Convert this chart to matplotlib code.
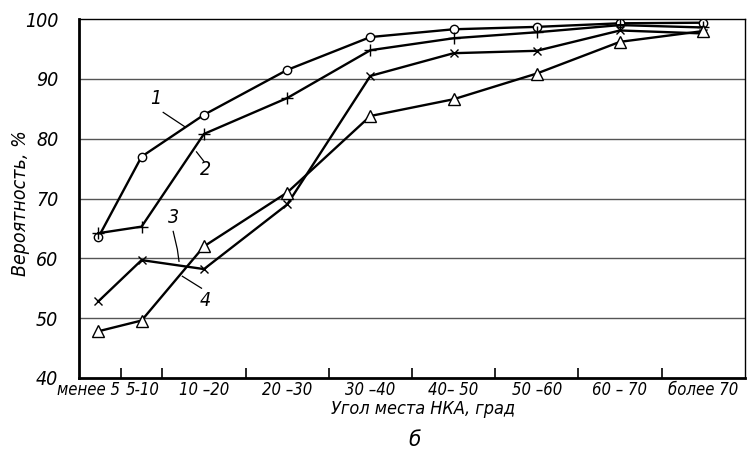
import matplotlib
matplotlib.use('Agg')
import matplotlib.pyplot as plt

# угол места, град (середины интервалов)
angle = [2.3, 7.5, 15, 25, 35, 45, 55, 65, 75]
curve1 = [63.5, 77.0, 84.0, 91.5, 97.0, 98.3, 98.7, 99.3, 99.4]
curve2 = [64.2, 65.3, 80.8, 86.8, 94.8, 96.8, 97.8, 99.0, 98.6]
curve3 = [52.8, 59.7, 58.2, 69.0, 90.5, 94.3, 94.7, 98.1, 97.6]
curve4 = [47.8, 49.6, 62.0, 71.0, 83.8, 86.6, 90.9, 96.2, 98.0]

bounds = [5, 10, 20, 30, 40, 50, 60, 70]
label_pos = [1.1, 7.6, 15, 25, 35, 45, 55, 65, 75]
labels = ['менее 5', '5-10', '10 –20', '20 –30', '30 –40', '40– 50',
          '50 –60', '60 – 70', 'более 70']
yticks = [40, 50, 60, 70, 80, 90, 100]

font = dict(family=['DejaVu Sans'], style='italic', stretch='condensed')

fig = plt.figure(figsize=(7.47, 4.66), dpi=100)
ax = fig.add_axes([0.106, 0.189, 0.891, 0.770])

for yv in yticks[1:-1]:
    ax.axhline(yv, color='#555555', lw=1.0, zorder=1)

kw = dict(color='black', lw=1.7, mfc='white', mec='black', zorder=3)
ax.plot(angle, curve1, marker='o', ms=6, mew=1.0, **kw)
ax.plot(angle, curve2, marker='+', ms=8, mew=1.0, **kw)
ax.plot(angle, curve3, marker='x', ms=6, mew=1.0, **kw)
ax.plot(angle, curve4, marker='^', ms=8, mew=1.0, **kw)

ax.set_xlim(0, 80)
ax.set_ylim(40, 100)
ax.set_xticks(bounds)
ax.set_xticklabels([])
ax.set_xticks(label_pos, minor=True)
ax.set_xticklabels(labels, minor=True, fontsize=12, **font)
ax.tick_params(axis='x', which='major', direction='in', length=7, width=1.2)
ax.tick_params(axis='x', which='minor', length=0, pad=2)
ax.set_yticks(yticks)
ax.set_yticklabels([str(v) for v in yticks], fontsize=14, **font)
ax.tick_params(axis='y', length=0, pad=15)

for side in ['left', 'bottom']:
    ax.spines[side].set_linewidth(2.0)
for side in ['top', 'right']:
    ax.spines[side].set_linewidth(1.0)

# номера кривых с выносками
ax.text(9.2, 86.8, '1', fontsize=14, ha='center', va='center', **font)
ax.plot([10.1, 12.7], [84.4, 82.0], color='black', lw=0.9)
ax.text(15.2, 74.8, '2', fontsize=14, ha='center', va='center', **font)
ax.plot([14.1, 15.0], [77.8, 76.2], color='black', lw=0.9)
ax.text(11.3, 66.8, '3', fontsize=14, ha='center', va='center', **font)
ax.plot([11.3, 11.8, 12.0], [64.5, 61.5, 59.5], color='black', lw=0.9)
ax.text(15.2, 53.0, '4', fontsize=14, ha='center', va='center', **font)
ax.plot([12.4, 14.7], [57.0, 55.0], color='black', lw=0.9)

fig.text(0.567, 0.122, 'Угол места НКА, град', fontsize=13, ha='center',
         va='center', **font)
fig.text(0.555, 0.056, 'б', fontsize=16, ha='center', va='center', **font)
fig.text(0.028, 0.565, 'Вероятность, %', fontsize=14, rotation=90,
         ha='center', va='center', **font)

fig.savefig('out.png', dpi=100)
